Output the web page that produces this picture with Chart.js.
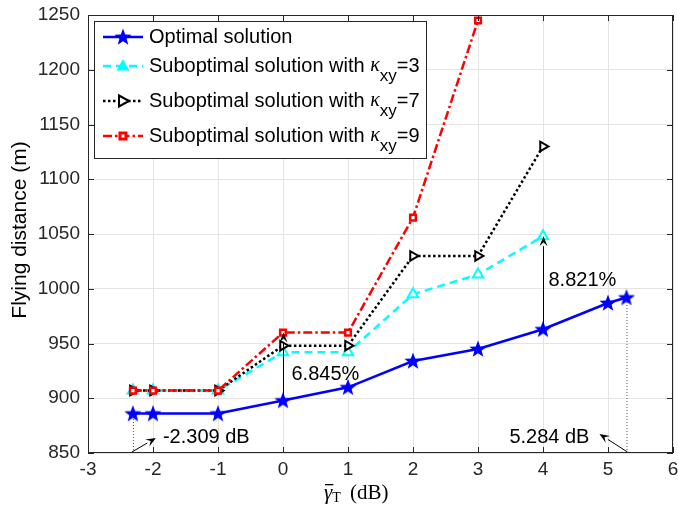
<!DOCTYPE html>
<html>
<head>
<meta charset="utf-8">
<script src="https://cdn.jsdelivr.net/npm/chart.js@4.4.1/dist/chart.umd.min.js"></script>
<style>
  body { margin:0; background:#fff; }
  canvas { display:block; }
</style>
</head>
<body>
<canvas id="myChart" width="678" height="508"></canvas>
<script>

// data
const xOpt = [-2.309, -2, -1, 0, 1, 2, 3, 4, 5, 5.284];
const yOpt = [886, 886, 886, 898, 910, 934, 945, 963, 987, 992];

const xSub = [-2.309, -2, -1, 0, 1, 2, 3, 4];
const yK3 = [907, 907, 907, 942, 942, 995, 1013, 1048];
const yK7 = [907, 907, 907, 948, 948, 1030, 1030, 1130];

const xK9 = [-2.309, -2, -1, 0, 1, 2, 3];
const yK9 = [907, 907, 907, 960, 960, 1065, 1245];

const xTicks = [-3, -2, -1, 0, 1, 2, 3, 4, 5, 6];
const yTicks = [850, 900, 950, 1000, 1050, 1100, 1150, 1200, 1250];

const legendNames = ["Optimal solution", "Suboptimal solution with ", "Suboptimal solution with ", "Suboptimal solution with "];
const legendK = [null, "3", "7", "9"];

const SANS = '"Liberation Sans", Arial, sans-serif';
const SERIF = '"Liberation Serif", "Times New Roman", serif';

const ctx = document.getElementById('myChart');

function pts(xs, ys){
  let out = [];
  xs.forEach((v, i) => { out.push({x: v, y: ys[i]}); });
  return out;
}

// filled 5 point star marker
function makeStar(r, color){
  let c = document.createElement('canvas');
  c.width = r*2 + 2; c.height = r*2 + 2;
  let g = c.getContext('2d');
  g.translate(r+1, r+1.5);
  g.beginPath();
  for (let i = 0; i < 10; i++){
    let rad = i % 2 == 0 ? r : r*0.42;
    let a = -Math.PI/2 + i*Math.PI/5;
    g.lineTo(rad*Math.cos(a), rad*Math.sin(a));
  }
  g.closePath();
  g.fillStyle = color;
  g.fill();
  return c;
}
const star = makeStar(9, '#0000ff');

function drawMarker(g, type, x, y){
  g.save();
  g.setLineDash([]);
  g.lineWidth = 2;
  if (type == 'star'){
    g.drawImage(star, x - star.width/2, y - star.height/2);
  } else if (type == 'tri'){
    g.beginPath();
    g.moveTo(x, y-7); g.lineTo(x+6.5, y+4.5); g.lineTo(x-6.5, y+4.5); g.closePath();
    g.fillStyle = '#00ffff'; g.fill();
  } else if (type == 'rtri'){
    g.beginPath();
    g.moveTo(x+6, y); g.lineTo(x-4, y-5.5); g.lineTo(x-4, y+5.5); g.closePath();
    g.fillStyle = '#fff'; g.fill();
    g.strokeStyle = '#000'; g.stroke();
  } else {
    g.fillStyle = '#ff0000';
    g.fillRect(x-4.5, y-4.5, 9, 9);
    g.fillStyle = '#fff';
    g.fillRect(x-1.5, y-1.5, 3, 3);
  }
  g.restore();
}

function arrow(g, x1, y1, x2, y2){
  g.save();
  g.strokeStyle = '#000'; g.fillStyle = '#000'; g.lineWidth = 1;
  g.setLineDash([]);
  let a = Math.atan2(y2-y1, x2-x1);
  let hl = 10, hw = 4;
  let bx = x2 - hl*Math.cos(a), by = y2 - hl*Math.sin(a);
  g.beginPath(); g.moveTo(x1, y1); g.lineTo(bx, by); g.stroke();
  g.beginPath();
  g.moveTo(x2, y2);
  g.lineTo(bx + hw*Math.sin(a), by - hw*Math.cos(a));
  g.lineTo(x2 - 0.6*hl*Math.cos(a), y2 - 0.6*hl*Math.sin(a));
  g.lineTo(bx - hw*Math.sin(a), by + hw*Math.cos(a));
  g.closePath(); g.fill();
  g.restore();
}

const extras = {
  id: 'extras',
  beforeDatasetsDraw(chart){
    const g = chart.ctx;
    const x = chart.scales.x, y = chart.scales.y;
    // thin dotted drop lines
    g.save();
    g.strokeStyle = '#555'; g.lineWidth = 1; g.setLineDash([1, 2]);
    g.beginPath();
    g.moveTo(x.getPixelForValue(xOpt[0]) + 0.5, y.getPixelForValue(850));
    g.lineTo(x.getPixelForValue(xOpt[0]) + 0.5, y.getPixelForValue(yOpt[0]));
    let n = xOpt.length - 1;
    g.moveTo(x.getPixelForValue(xOpt[n]) + 0.5, y.getPixelForValue(850));
    g.lineTo(x.getPixelForValue(xOpt[n]) + 0.5, y.getPixelForValue(yOpt[n]));
    g.stroke();
    g.restore();
  },
  afterDatasetsDraw(chart){
    const g = chart.ctx;
    const x = chart.scales.x, y = chart.scales.y;
    const a = chart.chartArea;

    // gap arrows
    let x0 = Math.round(x.getPixelForValue(0)) + 0.5;
    arrow(g, x0, y.getPixelForValue(yOpt[3]), x0, y.getPixelForValue(yK9[3]));
    let x4 = Math.round(x.getPixelForValue(4)) + 0.5;
    arrow(g, x4, y.getPixelForValue(yOpt[7]), x4, y.getPixelForValue(yK3[7]));

    g.save();
    g.fillStyle = '#000';
    g.font = '20px ' + SANS;
    g.textBaseline = 'middle';
    g.fillText('6.845%', x0 + 8, 374);
    g.fillText('8.821%', x4 + 5, 280);

    // threshold labels
    let xa = x.getPixelForValue(xOpt[0]);
    arrow(g, xa - 1, a.bottom - 1, xa + 23, a.bottom - 15);
    g.fillText('-2.309 dB', xa + 30, 437);
    let xb = x.getPixelForValue(xOpt[xOpt.length-1]);
    arrow(g, xb + 1, a.bottom - 1, xb - 27, a.bottom - 19);
    g.textAlign = 'right';
    g.fillText('5.284 dB', xb - 37, 437);
    g.restore();
  },
  afterDraw(chart){
    const g = chart.ctx;
    const a = chart.chartArea;
    const x = chart.scales.x, y = chart.scales.y;

    // axes box + inward ticks
    g.save();
    g.strokeStyle = '#262626'; g.lineWidth = 1;
    g.strokeRect(a.left + 0.5, a.top + 0.5, a.right - a.left - 1, a.bottom - a.top - 1);
    g.beginPath();
    xTicks.forEach(v => {
      let px = Math.round(x.getPixelForValue(v)) + 0.5;
      g.moveTo(px, a.bottom); g.lineTo(px, a.bottom - 6);
      g.moveTo(px, a.top); g.lineTo(px, a.top + 6);
    });
    yTicks.forEach(v => {
      let py = Math.round(y.getPixelForValue(v)) + 0.5;
      g.moveTo(a.left, py); g.lineTo(a.left + 6, py);
      g.moveTo(a.right, py); g.lineTo(a.right - 6, py);
    });
    g.stroke();

    // y axis title
    g.save();
    g.fillStyle = '#000';
    g.translate(20, (a.top + a.bottom) / 2 - 4);
    g.rotate(-Math.PI/2);
    g.textAlign = 'center'; g.textBaseline = 'middle';
    g.font = '21px ' + SANS;
    g.fillText('Flying distance (m)', 0, 0);
    g.restore();

    // x axis title: gamma bar sub T (dB)
    g.fillStyle = '#000';
    g.textBaseline = 'alphabetic';
    let sx = 324;
    let by = 499;
    g.font = 'italic 21px ' + SERIF;
    let wg = g.measureText('γ').width;
    g.fillText('γ', sx, by);
    g.fillRect(sx + 1, by - 15, wg, 1.3);
    g.font = '14px ' + SERIF;
    g.fillText('T', sx + wg, by + 3);
    let wt = g.measureText('T').width;
    g.font = '21px ' + SERIF;
    g.fillText(' (dB)', sx + wg + wt + 4, by);

    // legend
    let lx = 94, ly = 21, lw = 332, lh = 137;
    g.fillStyle = '#fff';
    g.fillRect(lx, ly, lw, lh);
    g.strokeStyle = '#262626';
    g.strokeRect(lx + 0.5, ly + 0.5, lw, lh);
    const rows = [37, 66, 101, 136];
    const cols = ['#0000ff', '#00ffff', '#000000', '#ff0000'];
    const dashes = [[], [8, 5], [2.5, 2.5], [9, 3, 2.5, 3]];
    const marks = ['star', 'tri', 'rtri', 'sq'];
    rows.forEach((ry, i) => {
      g.save();
      g.strokeStyle = cols[i]; g.lineWidth = 2.5; g.setLineDash(dashes[i]);
      g.beginPath(); g.moveTo(lx + 9, ry); g.lineTo(lx + 49, ry); g.stroke();
      g.restore();
      drawMarker(g, marks[i], lx + 29, ry);
      g.fillStyle = '#000';
      g.textBaseline = 'middle';
      g.font = '20px ' + SANS;
      let tx = lx + 55;
      g.fillText(legendNames[i], tx, ry);
      if (legendK[i]){
        tx += g.measureText(legendNames[i]).width;
        g.font = 'italic 20px ' + SERIF;
        g.fillText('κ', tx, ry);
        tx += g.measureText('κ').width;
        g.font = '17px ' + SANS;
        g.fillText('xy', tx, ry + 10);
        tx += g.measureText('xy').width;
        g.font = '20px ' + SANS;
        g.fillText('=' + legendK[i], tx, ry);
      }
    });
    g.restore();
  }
};

new Chart(ctx, {
  type: 'line',
  data: {
    datasets: [
      {
        label: 'Optimal solution',
        data: pts(xOpt, yOpt),
        borderColor: '#0000ff',
        borderWidth: 2.5,
        pointStyle: star,
        order: 3
      },
      {
        label: 'Suboptimal solution with kxy=3',
        data: pts(xSub, yK3),
        borderColor: '#00ffff',
        borderWidth: 2.5,
        borderDash: [8, 5],
        pointStyle: 'triangle',
        pointRadius: 6,
        pointBackgroundColor: '#ffffff',
        pointBorderColor: '#00ffff',
        pointBorderWidth: 2,
        order: 2
      },
      {
        label: 'Suboptimal solution with kxy=7',
        data: pts(xSub, yK7),
        borderColor: '#000000',
        borderWidth: 2.5,
        borderDash: [2.5, 2.5],
        pointStyle: 'triangle',
        rotation: 90,
        pointRadius: 5.5,
        pointBackgroundColor: '#ffffff',
        pointBorderColor: '#000000',
        pointBorderWidth: 2,
        order: 1
      },
      {
        label: 'Suboptimal solution with kxy=9',
        data: pts(xK9, yK9),
        borderColor: '#ff0000',
        borderWidth: 2.5,
        borderDash: [9, 3, 2.5, 3],
        pointStyle: 'rect',
        pointRadius: 4,
        pointBackgroundColor: '#ffffff',
        pointBorderColor: '#ff0000',
        pointBorderWidth: 2.5,
        order: 0
      }
    ]
  },
  options: {
    responsive: false,
    animation: false,
    clip: false,
    layout: { autoPadding: false, padding: { left: 0, right: 5, top: 15, bottom: 0 } },
    plugins: { legend: { display: false }, tooltip: { enabled: false } },
    scales: {
      x: {
        type: 'linear',
        min: -3, max: 6,
        afterFit: (s) => { s.height = 55; s.paddingLeft = 0; s.paddingRight = 0; },
        afterBuildTicks: (s) => { s.ticks = xTicks.map(v => ({value: v})); },
        grid: { color: '#e4e4e4', drawTicks: false, tickLength: 0 },
        border: { display: false },
        ticks: { color: '#262626', padding: 5, callback: (v) => String(v), font: { size: 19, family: SANS } }
      },
      y: {
        min: 850, max: 1250,
        afterFit: (s) => { s.width = 88; s.paddingTop = 0; s.paddingBottom = 0; },
        afterBuildTicks: (s) => { s.ticks = yTicks.map(v => ({value: v})); },
        grid: { color: '#e4e4e4', drawTicks: false, tickLength: 0 },
        border: { display: false },
        ticks: { color: '#262626', padding: 8, callback: (v) => String(v), font: { size: 19, family: SANS } }
      }
    }
  },
  plugins: [extras]
});

</script>
</body>
</html>
